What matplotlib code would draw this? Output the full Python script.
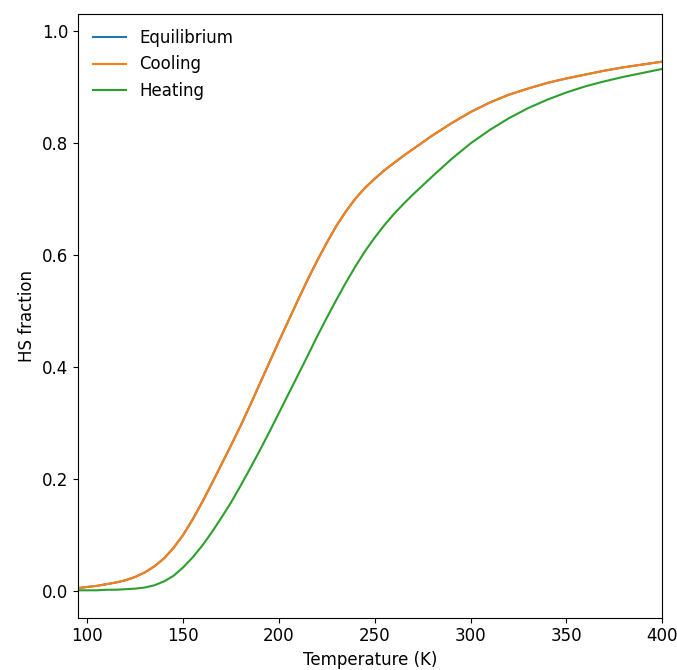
import matplotlib
matplotlib.use("Agg")
import matplotlib.pyplot as plt

plt.rcParams["font.size"] = 12

# temperatures (K): 5 K steps through the transition, 10 K above
temperature = list(range(95, 271, 5)) + list(range(280, 401, 10))

# HS fractions
cooling = [0.005, 0.007, 0.009, 0.012, 0.015, 0.019, 0.025, 0.033, 0.044, 0.058,
           0.077, 0.100, 0.128, 0.159, 0.192, 0.226, 0.260, 0.295, 0.332, 0.370,
           0.408, 0.446, 0.483, 0.520, 0.556, 0.590, 0.622, 0.652, 0.678, 0.701,
           0.720, 0.736, 0.751, 0.764, 0.777, 0.789,
           0.813, 0.835, 0.855, 0.872, 0.886, 0.897, 0.907, 0.915, 0.922, 0.929,
           0.935, 0.940, 0.945]
equilibrium = list(cooling)  # sits under the cooling curve
heating = [0.001, 0.001, 0.001, 0.002, 0.002, 0.003, 0.004, 0.006, 0.010, 0.017,
           0.027, 0.042, 0.060, 0.081, 0.105, 0.131, 0.158, 0.188, 0.219, 0.251,
           0.284, 0.318, 0.352, 0.386, 0.420, 0.455, 0.488, 0.520, 0.551, 0.580,
           0.607, 0.631, 0.653, 0.673, 0.691, 0.708,
           0.740, 0.771, 0.799, 0.823, 0.844, 0.862, 0.877, 0.890, 0.901, 0.910,
           0.918, 0.925, 0.932]

fig = plt.figure(figsize=(6.77, 6.7), dpi=100)
ax = fig.add_axes([0.115, 0.078, 0.863, 0.901])
ax.plot(temperature, equilibrium, label="Equilibrium")
ax.plot(temperature, cooling, label="Cooling")
ax.plot(temperature, heating, label="Heating")
ax.set_xlim(95, 400)
ax.set_ylim(-0.048, 1.03)
ax.set_xlabel("Temperature (K)")
ax.set_ylabel("HS fraction")
ax.legend(loc="upper left", frameon=False)
fig.savefig("out.png", dpi=100)
